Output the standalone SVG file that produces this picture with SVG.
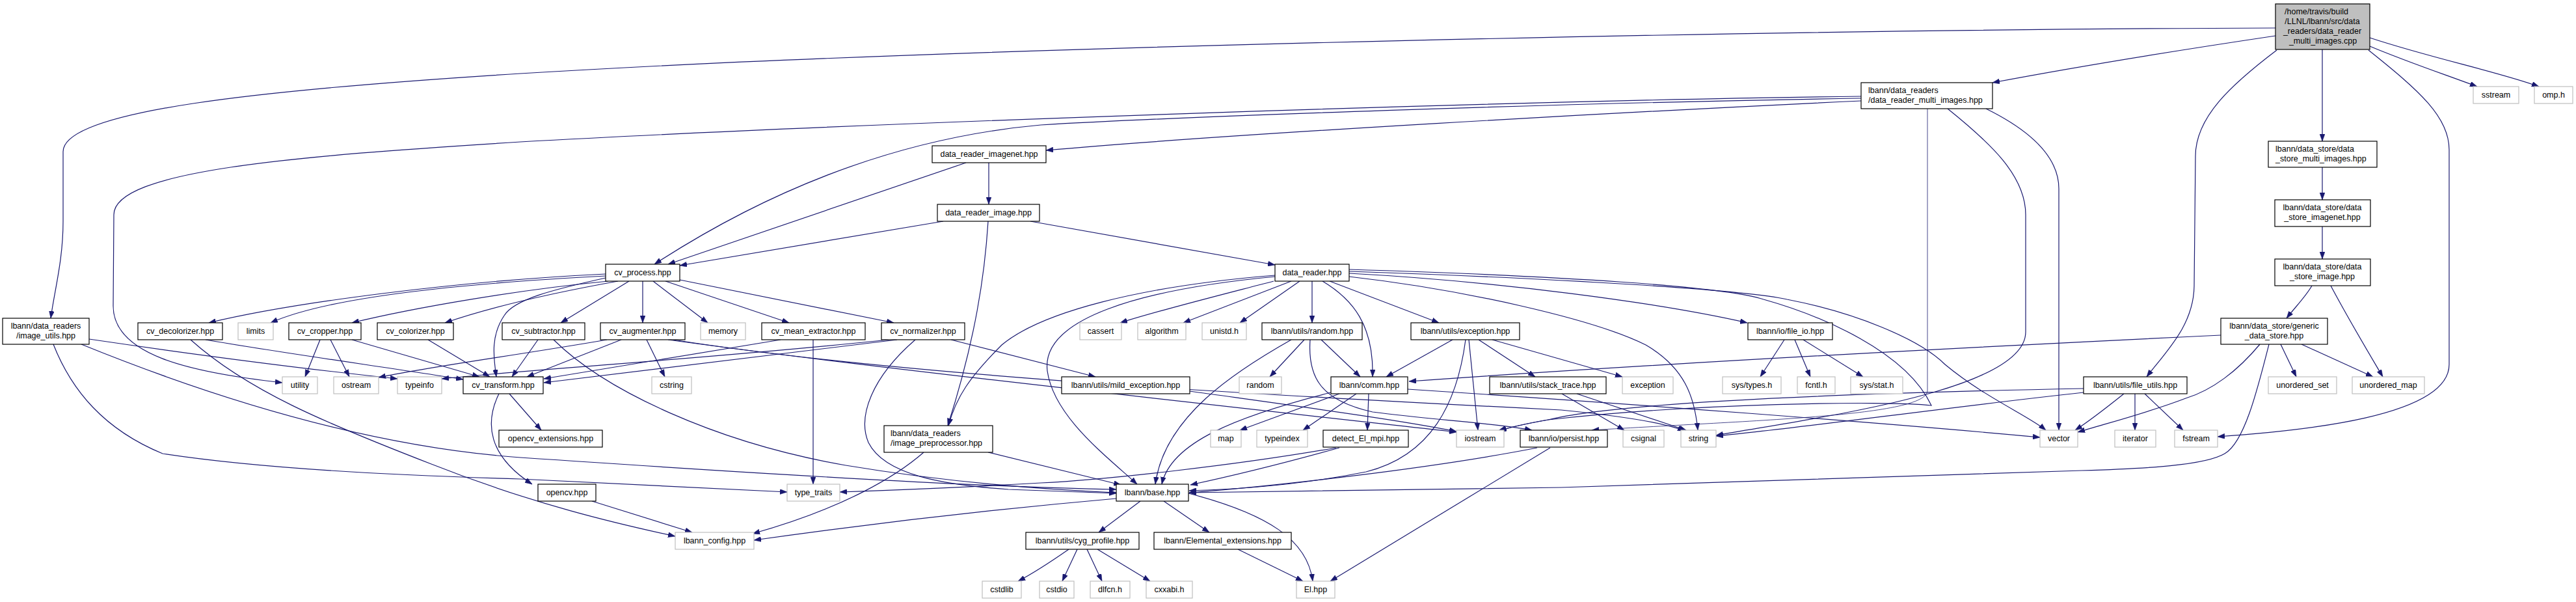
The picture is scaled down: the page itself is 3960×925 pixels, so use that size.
<svg xmlns="http://www.w3.org/2000/svg" width="3960" height="925" viewBox="0 0 3960 925">
<style>
.n rect{fill:#fff;stroke:#000;stroke-width:1.2}
.s rect{fill:#fff;stroke:#bfbfbf;stroke-width:1.2}
.m rect{fill:#bfbfbf;stroke:#000;stroke-width:1.2}
text{font-family:"Liberation Sans",Arial,Helvetica,sans-serif;font-size:12.5px;fill:#000;text-anchor:middle}
text.st{text-anchor:start}
#edges path{fill:none;stroke:#191970;stroke-width:1.2;marker-end:url(#a)}
</style>
<defs>
<marker id="a" viewBox="0 0 11 8" refX="11" refY="4" markerWidth="11" markerHeight="8" markerUnits="userSpaceOnUse" orient="auto">
<path d="M0,0 L11,4 L0,8 z" fill="#191970" stroke="#191970" stroke-width="0.5"/>
</marker>
</defs>
<rect width="3960" height="925" fill="#fff"/>
<g id="edges">
<path d="M3498,43 C2800,45 1500,70 800,113 C400,138 97,170 97,233 L97,340 C97,400 84,445 78,489"/>
<path d="M3498,55 C3330,80 3180,105 3063,127"/>
<path d="M3570,76 L3570,217"/>
<path d="M3643,71 C3700,95 3760,115 3808,133"/>
<path d="M3643,58 C3740,90 3840,110 3903,133"/>
<path d="M3500,77 C3430,130 3375,180 3375,240 L3373,440 C3372,500 3330,540 3300,579"/>
<path d="M3641,77 C3720,140 3765,180 3765,230 L3765,560 C3765,640 3540,662 3409,671"/>
<path d="M2861,155 C2500,172 1900,205 1608,231"/>
<path d="M2861,151 C2400,158 1800,180 1600,192 C1400,210 1200,280 1006,406"/>
<path d="M2861,148 C2300,155 1300,190 800,218 C450,240 175,262 175,330 L174,470 C174,545 290,572 434,588"/>
<path d="M2963,167 L2963,600 C2963,640 2700,645 2447,661" style="stroke-width:0.8"/>
<path d="M2994,167 C3060,220 3114,270 3114,330 L3114,510 C3114,600 2800,640 2638,669"/>
<path d="M3053,167 C3120,200 3165,240 3165,290 L3165,661"/>
<path d="M3570,257 L3570,307"/>
<path d="M3570,348 L3570,398"/>
<path d="M3554,439 C3545,455 3530,470 3515,489"/>
<path d="M3583,439 C3610,490 3640,540 3663,579"/>
<path d="M3414,515 C3100,530 2600,555 2166,586"/>
<path d="M3488,529 C3470,600 3450,680 3420,697 C3390,715 3300,720 3200,723 L2400,749 C2100,754 1900,756 1828,757"/>
<path d="M3506,529 L3530,579"/>
<path d="M3538,529 L3648,579"/>
<path d="M3474,529 C3440,570 3400,600 3360,612 C3300,635 3240,650 3194,664"/>
<path d="M3203,597 C2900,603 2500,615 2380,645 C2340,652 2320,657 2305,662"/>
<path d="M3203,603 C3000,625 2750,660 2638,670"/>
<path d="M3265,605 C3240,625 3215,645 3190,661"/>
<path d="M3282,605 L3282,661"/>
<path d="M3297,605 L3356,661"/>
<path d="M1520,250 L1520,314"/>
<path d="M1485,250 L1027,406"/>
<path d="M1450,340 L1045,408"/>
<path d="M1519,340 C1514,420 1500,520 1457,654"/>
<path d="M1584,340 L1960,407"/>
<path d="M931,421 C700,432 450,465 321,496"/>
<path d="M931,424 C700,436 500,458 416,496"/>
<path d="M935,432 C800,445 640,472 541,496"/>
<path d="M950,432 C850,450 760,470 684,496"/>
<path d="M931,427 C850,445 790,460 775,485 C755,515 758,545 763,579"/>
<path d="M967,432 L862,496"/>
<path d="M988,432 L988,496"/>
<path d="M1004,432 L1088,496"/>
<path d="M1023,432 L1213,496"/>
<path d="M1045,430 L1374,496"/>
<path d="M137,521 C300,545 450,565 611,582"/>
<path d="M125,529 C300,600 550,685 800,703 C1200,730 1500,748 1716,752"/>
<path d="M82,529 C110,600 160,660 250,697 C400,720 600,730 800,736 C1000,745 1120,752 1210,756"/>
<path d="M316,522 C450,545 600,565 712,583"/>
<path d="M293,522 C380,600 500,650 663,713 C820,775 950,805 1038,824"/>
<path d="M492,522 L469,579"/>
<path d="M508,522 L537,579"/>
<path d="M541,522 L737,579"/>
<path d="M658,522 L753,579"/>
<path d="M827,522 L787,579"/>
<path d="M851,522 C930,600 1100,680 1300,715 C1450,740 1600,752 1716,757"/>
<path d="M933,522 C800,545 650,565 582,580"/>
<path d="M955,522 L810,579"/>
<path d="M994,522 L1022,579"/>
<path d="M1027,522 C1300,560 1800,615 2239,664"/>
<path d="M1035,522 C1400,580 2000,610 2400,630 C2500,640 2560,650 2590,662"/>
<path d="M1200,522 L836,582"/>
<path d="M1250,522 L1250,744"/>
<path d="M1379,522 L836,588"/>
<path d="M1366,522 C1100,550 850,565 679,582"/>
<path d="M1407,522 C1340,580 1318,640 1335,680 C1360,730 1450,745 1550,752 L1716,758"/>
<path d="M1462,522 L1684,579"/>
<path d="M783,605 L832,661"/>
<path d="M767,605 C745,650 750,700 818,744"/>
<path d="M910,770 L1064,818"/>
<path d="M1420,695 C1380,730 1300,780 1157,820"/>
<path d="M1519,695 L1723,745"/>
<path d="M1960,423 C1750,440 1600,480 1540,530 C1490,580 1470,610 1458,654"/>
<path d="M1960,425 C1750,445 1600,490 1610,570 C1620,640 1700,700 1748,744"/>
<path d="M1958,432 C1850,460 1770,480 1722,496"/>
<path d="M1985,432 L1819,496"/>
<path d="M1998,432 L1906,496"/>
<path d="M2017,432 L2017,496"/>
<path d="M2033,432 C2080,460 2112,500 2110,579"/>
<path d="M2044,432 L2212,496"/>
<path d="M2074,420 C2300,432 2550,465 2686,496"/>
<path d="M2074,425 C2250,445 2450,490 2530,530 C2590,565 2605,610 2610,661"/>
<path d="M2074,417 C2400,428 2680,445 2747,460 C2850,480 2950,520 2990,560 C3050,610 3120,640 3145,661"/>
<path d="M2074,414 C2400,424 2650,440 2711,460 C2800,485 2930,540 2969,623 C2900,615 2600,620 2380,645 C2340,652 2320,657 2303,662"/>
<path d="M1985,522 C1900,570 1790,640 1776,744"/>
<path d="M2005,522 L1952,579"/>
<path d="M2031,522 L2091,579"/>
<path d="M2014,522 C2010,580 2030,615 2110,633 C2200,645 2300,650 2355,661"/>
<path d="M2046,603 C1900,640 1800,680 1786,744"/>
<path d="M2059,605 L1906,661"/>
<path d="M2085,605 L2003,661"/>
<path d="M2104,605 L2102,661"/>
<path d="M2164,598 C2500,620 2900,650 3136,672"/>
<path d="M2233,522 L2131,579"/>
<path d="M2253,522 C2240,620 2200,700 2100,725 C2000,745 1900,752 1828,754"/>
<path d="M2258,522 L2272,661"/>
<path d="M2273,522 L2360,579"/>
<path d="M2294,522 L2494,579"/>
<path d="M2401,605 L2497,661"/>
<path d="M2424,605 L2592,661"/>
<path d="M2743,522 L2706,579"/>
<path d="M2759,522 L2783,579"/>
<path d="M2772,522 L2864,579"/>
<path d="M2363,688 C2200,720 1950,748 1828,757"/>
<path d="M2383,688 L2045,893"/>
<path d="M2059,688 C1980,710 1900,730 1830,745"/>
<path d="M2054,688 C1900,715 1700,737 1600,742 C1500,748 1400,752 1291,756"/>
<path d="M1716,766 C1500,785 1300,810 1159,830"/>
<path d="M1753,770 L1689,818"/>
<path d="M1789,770 L1859,818"/>
<path d="M1827,758 C1950,790 2010,830 2018,893"/>
<path d="M1643,844 C1620,860 1590,880 1565,893"/>
<path d="M1656,844 L1633,893"/>
<path d="M1671,844 L1694,893"/>
<path d="M1687,844 L1768,893"/>
<path d="M1903,844 L2003,893"/>
<path d="M1829,601 C2000,625 2150,645 2239,663"/>
</g>
<g id="n_main" class="m"><rect x="3498" y="6" width="145" height="70"/><text x="3561" y="22">/home/travis/build</text><text x="3570" y="37">/LLNL/lbann/src/data</text><text x="3570" y="52">_readers/data_reader</text><text x="3571" y="67">_multi_images.cpp</text></g>
<g id="n_multi" class="n"><rect x="2861" y="127" width="202" height="40"/><text class="st" x="2872" y="143">lbann/data_readers</text><text class="st" x="2872" y="158">/data_reader_multi_images.hpp</text></g>
<g id="n_sstream" class="s"><rect x="3802" y="133" width="70" height="26"/><text x="3837" y="150">sstream</text></g>
<g id="n_omp" class="s"><rect x="3896" y="133" width="59" height="26"/><text x="3925.5" y="150">omp.h</text></g>
<g id="n_dsmulti" class="n"><rect x="3487" y="217" width="167" height="40"/><text class="st" x="3498" y="233">lbann/data_store/data</text><text class="st" x="3498" y="248">_store_multi_images.hpp</text></g>
<g id="n_dsimagenet" class="n"><rect x="3497" y="307" width="147" height="41"/><text x="3570" y="323">lbann/data_store/data</text><text x="3570" y="338">_store_imagenet.hpp</text></g>
<g id="n_dsimage" class="n"><rect x="3497" y="398" width="147" height="41"/><text x="3570" y="414">lbann/data_store/data</text><text x="3570" y="429">_store_image.hpp</text></g>
<g id="n_generic" class="n"><rect x="3414" y="489" width="164" height="40"/><text x="3496" y="505">lbann/data_store/generic</text><text x="3496" y="520">_data_store.hpp</text></g>
<g id="n_fileutils" class="n"><rect x="3203" y="579" width="159" height="26"/><text x="3282.5" y="596">lbann/utils/file_utils.hpp</text></g>
<g id="n_uset" class="s"><rect x="3487" y="579" width="105" height="26"/><text x="3539.5" y="596">unordered_set</text></g>
<g id="n_umap" class="s"><rect x="3616" y="579" width="111" height="26"/><text x="3671.5" y="596">unordered_map</text></g>
<g id="n_iterator" class="s"><rect x="3251" y="661" width="63" height="26"/><text x="3282.5" y="678">iterator</text></g>
<g id="n_fstream" class="s"><rect x="3343" y="661" width="66" height="26"/><text x="3376" y="678">fstream</text></g>
<g id="n_drimagenet" class="n"><rect x="1433" y="224" width="175" height="26"/><text x="1520.5" y="241">data_reader_imagenet.hpp</text></g>
<g id="n_drimage" class="n"><rect x="1441" y="314" width="157" height="26"/><text x="1519.5" y="331">data_reader_image.hpp</text></g>
<g id="n_cvprocess" class="n"><rect x="931" y="406" width="114" height="26"/><text x="988" y="423">cv_process.hpp</text></g>
<g id="n_datareader" class="n"><rect x="1960" y="406" width="114" height="26"/><text x="2017" y="423">data_reader.hpp</text></g>
<g id="n_imageutils" class="n"><rect x="4" y="489" width="133" height="40"/><text x="70.5" y="505">lbann/data_readers</text><text x="70.5" y="520">/image_utils.hpp</text></g>
<g id="n_decolorizer" class="n"><rect x="212" y="496" width="130" height="26"/><text x="277" y="513">cv_decolorizer.hpp</text></g>
<g id="n_limits" class="s"><rect x="366" y="496" width="54" height="26"/><text x="393" y="513">limits</text></g>
<g id="n_cropper" class="n"><rect x="444" y="496" width="111" height="26"/><text x="499.5" y="513">cv_cropper.hpp</text></g>
<g id="n_colorizer" class="n"><rect x="580" y="496" width="117" height="26"/><text x="638.5" y="513">cv_colorizer.hpp</text></g>
<g id="n_subtractor" class="n"><rect x="772" y="496" width="127" height="26"/><text x="835.5" y="513">cv_subtractor.hpp</text></g>
<g id="n_augmenter" class="n"><rect x="923" y="496" width="130" height="26"/><text x="988" y="513">cv_augmenter.hpp</text></g>
<g id="n_memory" class="s"><rect x="1077" y="496" width="69" height="26"/><text x="1111.5" y="513">memory</text></g>
<g id="n_meanext" class="n"><rect x="1171" y="496" width="159" height="26"/><text x="1250.5" y="513">cv_mean_extractor.hpp</text></g>
<g id="n_normalizer" class="n"><rect x="1355" y="496" width="128" height="26"/><text x="1419" y="513">cv_normalizer.hpp</text></g>
<g id="n_cassert" class="s"><rect x="1660" y="496" width="64" height="26"/><text x="1692" y="513">cassert</text></g>
<g id="n_algorithm" class="s"><rect x="1749" y="496" width="74" height="26"/><text x="1786" y="513">algorithm</text></g>
<g id="n_unistd" class="s"><rect x="1848" y="496" width="68" height="26"/><text x="1882" y="513">unistd.h</text></g>
<g id="n_randomhpp" class="n"><rect x="1940" y="496" width="154" height="26"/><text x="2017" y="513">lbann/utils/random.hpp</text></g>
<g id="n_exceptionhpp" class="n"><rect x="2169" y="496" width="167" height="26"/><text x="2252.5" y="513">lbann/utils/exception.hpp</text></g>
<g id="n_fileio" class="n"><rect x="2687" y="496" width="130" height="26"/><text x="2752" y="513">lbann/io/file_io.hpp</text></g>
<g id="n_utility" class="s"><rect x="434" y="579" width="54" height="26"/><text x="461" y="596">utility</text></g>
<g id="n_ostream" class="s"><rect x="513" y="579" width="69" height="26"/><text x="547.5" y="596">ostream</text></g>
<g id="n_typeinfo" class="s"><rect x="611" y="579" width="68" height="26"/><text x="645" y="596">typeinfo</text></g>
<g id="n_cvtransform" class="n"><rect x="712" y="579" width="123" height="26"/><text x="773.5" y="596">cv_transform.hpp</text></g>
<g id="n_cstring" class="s"><rect x="1002" y="579" width="61" height="26"/><text x="1032.5" y="596">cstring</text></g>
<g id="n_mildexc" class="n"><rect x="1632" y="579" width="197" height="26"/><text x="1730.5" y="596">lbann/utils/mild_exception.hpp</text></g>
<g id="n_random" class="s"><rect x="1905" y="579" width="65" height="26"/><text x="1937.5" y="596">random</text></g>
<g id="n_comm" class="n"><rect x="2046" y="579" width="118" height="26"/><text x="2105" y="596">lbann/comm.hpp</text></g>
<g id="n_stacktrace" class="n"><rect x="2290" y="579" width="179" height="26"/><text x="2379.5" y="596">lbann/utils/stack_trace.hpp</text></g>
<g id="n_exception" class="s"><rect x="2494" y="579" width="78" height="26"/><text x="2533" y="596">exception</text></g>
<g id="n_systypes" class="s"><rect x="2648" y="579" width="90" height="26"/><text x="2693" y="596">sys/types.h</text></g>
<g id="n_fcntl" class="s"><rect x="2763" y="579" width="58" height="26"/><text x="2792" y="596">fcntl.h</text></g>
<g id="n_sysstat" class="s"><rect x="2845" y="579" width="80" height="26"/><text x="2885" y="596">sys/stat.h</text></g>
<g id="n_opencvext" class="n"><rect x="767" y="661" width="159" height="26"/><text x="846.5" y="678">opencv_extensions.hpp</text></g>
<g id="n_imgpre" class="n"><rect x="1359" y="654" width="167" height="41"/><text class="st" x="1369" y="670">lbann/data_readers</text><text class="st" x="1369" y="685">/image_preprocessor.hpp</text></g>
<g id="n_map" class="s"><rect x="1861" y="661" width="47" height="26"/><text x="1884.5" y="678">map</text></g>
<g id="n_typeindex" class="s"><rect x="1932" y="661" width="78" height="26"/><text x="1971" y="678">typeindex</text></g>
<g id="n_detect" class="n"><rect x="2034" y="661" width="131" height="26"/><text x="2099.5" y="678">detect_El_mpi.hpp</text></g>
<g id="n_iostream" class="s"><rect x="2239" y="661" width="73" height="26"/><text x="2275.5" y="678">iostream</text></g>
<g id="n_persist" class="n"><rect x="2337" y="661" width="134" height="26"/><text x="2404" y="678">lbann/io/persist.hpp</text></g>
<g id="n_csignal" class="s"><rect x="2495" y="661" width="63" height="26"/><text x="2526.5" y="678">csignal</text></g>
<g id="n_string" class="s"><rect x="2584" y="661" width="54" height="26"/><text x="2611" y="678">string</text></g>
<g id="n_vector" class="s"><rect x="3136" y="661" width="58" height="26"/><text x="3165" y="678">vector</text></g>
<g id="n_opencv" class="n"><rect x="827" y="744" width="89" height="26"/><text x="871.5" y="761">opencv.hpp</text></g>
<g id="n_typetraits" class="s"><rect x="1210" y="744" width="81" height="26"/><text x="1250.5" y="761">type_traits</text></g>
<g id="n_base" class="n"><rect x="1716" y="744" width="111" height="26"/><text x="1771.5" y="761">lbann/base.hpp</text></g>
<g id="n_config" class="s"><rect x="1038" y="818" width="121" height="26"/><text x="1098.5" y="835">lbann_config.hpp</text></g>
<g id="n_cyg" class="n"><rect x="1577" y="818" width="174" height="26"/><text x="1664" y="835">lbann/utils/cyg_profile.hpp</text></g>
<g id="n_elemext" class="n"><rect x="1774" y="818" width="211" height="26"/><text x="1879.5" y="835">lbann/Elemental_extensions.hpp</text></g>
<g id="n_cstdlib" class="s"><rect x="1510" y="893" width="60" height="26"/><text x="1540" y="910">cstdlib</text></g>
<g id="n_cstdio" class="s"><rect x="1598" y="893" width="53" height="26"/><text x="1624.5" y="910">cstdio</text></g>
<g id="n_dlfcn" class="s"><rect x="1676" y="893" width="61" height="26"/><text x="1706.5" y="910">dlfcn.h</text></g>
<g id="n_cxxabi" class="s"><rect x="1762" y="893" width="71" height="26"/><text x="1797.5" y="910">cxxabi.h</text></g>
<g id="n_el" class="s"><rect x="1993" y="893" width="59" height="26"/><text x="2022.5" y="910">El.hpp</text></g>
</svg>
